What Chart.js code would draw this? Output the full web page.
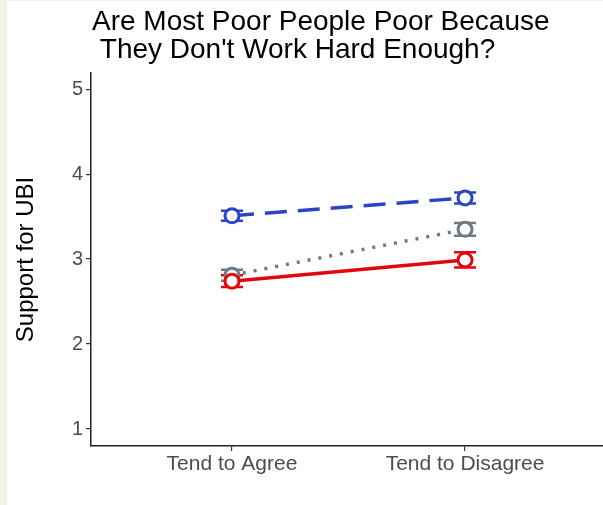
<!DOCTYPE html>
<html>
<head>
<meta charset="utf-8">
<script src="https://cdn.jsdelivr.net/npm/chart.js@4/dist/chart.umd.min.js"></script>
<style>
  html, body { margin: 0; padding: 0; background: #f3f4e6; }
  body { width: 603px; height: 505px; position: relative; overflow: hidden; }
  #wrap { position: absolute; left: 7px; top: 1px; width: 596px; height: 504px; background: #ffffff; }
</style>
</head>
<body>
<div id="wrap"><canvas id="ubi" width="596" height="504"></canvas></div>
<script>
const categories = ['Tend to Agree', 'Tend to Disagree'];
const yTicks = [1, 2, 3, 4, 5];

// group means and standard errors, one value per category
const blueMeans = [3.51, 3.72];
const blueErr = [0.06, 0.065];
const grayMeans = [2.81, 3.35];
const grayErr = [0.065, 0.075];
const redMeans = [2.74, 2.99];
const redErr = [0.07, 0.09];

const FONT = '"Liberation Sans", Arial, Helvetica, sans-serif';
const titleLines = ['Are Most Poor People Poor Because', ' They Don\'t Work Hard Enough?'];

const toPoints = (means) => means.map((y, i) => ({ x: i + 1, y }));

const series = (label, means, err, color, dash) => ({
  label,
  data: toPoints(means),
  errors: err,
  borderColor: color,
  borderWidth: 3.5,
  borderDash: dash,
  pointRadius: 7,
  pointBorderWidth: 3,
  pointBackgroundColor: '#ffffff',
  pointBorderColor: color,
  fill: false,
  tension: 0,
});

// vertical error bars with caps, drawn under the lines and points
const errorBars = {
  id: 'errorBars',
  beforeDatasetsDraw(chart) {
    const { ctx, scales: { x, y } } = chart;
    for (let d = chart.data.datasets.length - 1; d >= 0; d--) {
      const ds = chart.data.datasets[d];
      ctx.save();
      ctx.strokeStyle = ds.borderColor;
      ctx.lineWidth = 2.5;
      ds.data.forEach((p, i) => {
        const px = x.getPixelForValue(p.x);
        const hi = y.getPixelForValue(p.y + ds.errors[i]);
        const lo = y.getPixelForValue(p.y - ds.errors[i]);
        ctx.beginPath();
        ctx.moveTo(px, hi); ctx.lineTo(px, lo);
        ctx.moveTo(px - 11, hi); ctx.lineTo(px + 11, hi);
        ctx.moveTo(px - 11, lo); ctx.lineTo(px + 11, lo);
        ctx.stroke();
      });
      ctx.restore();
    }
  }
};

// two-line title, left aligned with the plot panel
const leftTitle = {
  id: 'leftTitle',
  afterDraw(chart) {
    const { ctx, chartArea } = chart;
    ctx.save();
    ctx.fillStyle = '#000000';
    ctx.font = '28px ' + FONT;
    ctx.textAlign = 'left';
    ctx.textBaseline = 'alphabetic';
    titleLines.forEach((t, i) => ctx.fillText(t, chartArea.left + 1, 29 + i * 28));
    ctx.restore();
  }
};

new Chart(document.getElementById('ubi'), {
  type: 'line',
  data: {
    datasets: [
      series('red', redMeans, redErr, '#e4060e', []),
      series('gray', grayMeans, grayErr, '#6b7a88', [3, 8]),
      series('blue', blueMeans, blueErr, '#2b44c4', [22, 11]),
    ],
  },
  options: {
    responsive: false,
    animation: false,
    layout: { autoPadding: false, padding: { top: 72, left: 0, right: 0, bottom: 0 } },
    plugins: {
      legend: { display: false },
      tooltip: { enabled: false },
      title: { display: false },
    },
    scales: {
      x: {
        type: 'linear',
        min: 0.395,
        max: 2.592,
        afterBuildTicks: (s) => { s.ticks = categories.map((c, i) => ({ value: i + 1 })); },
        afterFit: (s) => { s.height = 59; s.paddingLeft = 0; s.paddingRight = 0; },
        ticks: {
          callback: (v) => categories[v - 1],
          autoSkip: false,
          maxRotation: 0,
          color: '#4d4d4d',
          font: { family: FONT, size: 21 },
          padding: 1,
        },
        grid: { drawOnChartArea: false, tickLength: 5, color: '#333333', lineWidth: 1.2 },
        border: { display: true, color: '#222222', width: 1.5 },
      },
      y: {
        min: 0.8,
        max: 5.19,
        afterBuildTicks: (s) => { s.ticks = yTicks.map((v) => ({ value: v })); },
        afterFit: (s) => { s.width = 84; s.paddingTop = 0; s.paddingBottom = 0; },
        ticks: {
          color: '#4d4d4d',
          font: { family: FONT, size: 20 },
          padding: 3,
        },
        grid: { drawOnChartArea: false, tickLength: 5, color: '#333333', lineWidth: 1.2 },
        border: { display: true, color: '#222222', width: 1.5 },
        title: {
          display: true,
          text: 'Support for UBI',
          color: '#000000',
          font: { family: FONT, size: 24 },
          padding: { top: 5, bottom: 0 },
        },
      },
    },
  },
  plugins: [errorBars, leftTitle],
});
</script>
</body>
</html>
